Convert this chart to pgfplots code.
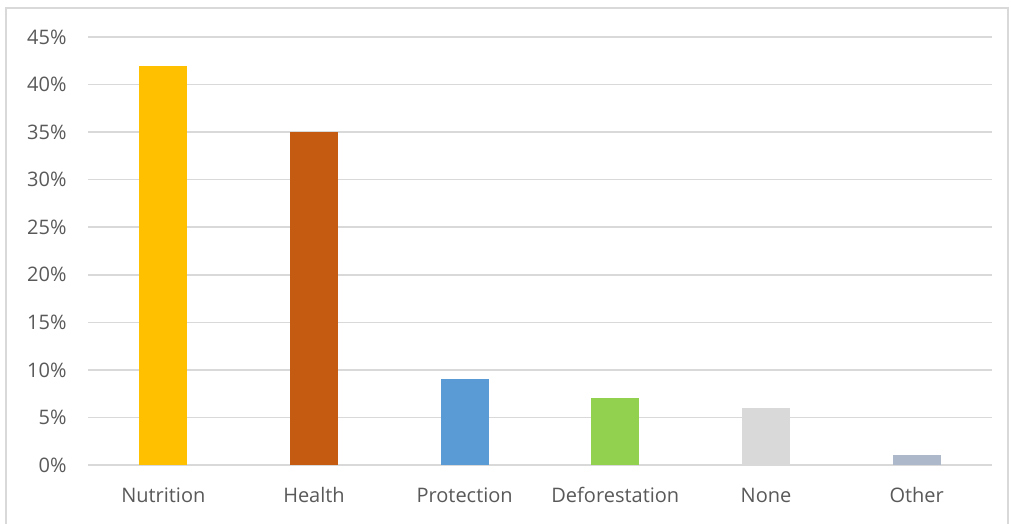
\documentclass[border=0pt]{standalone}
\usepackage{pgfplots}
\pgfplotsset{compat=1.18}
\usepackage{fontspec}
\setmainfont{Open Sans}
\definecolor{txt}{HTML}{595959}
\definecolor{gridc}{HTML}{D9D9D9}
\definecolor{c1}{HTML}{FFC000}
\definecolor{c2}{HTML}{C55A11}
\definecolor{c3}{HTML}{5B9BD5}
\definecolor{c4}{HTML}{92D050}
\definecolor{c5}{HTML}{D9D9D9}
\definecolor{c6}{HTML}{ADB9CA}
\begin{document}
\begin{tikzpicture}
\useasboundingbox (0,0) rectangle (1011pt,524pt);
\draw[gridc, line width=1.5pt] (6pt,-5pt) |- (1008pt,516pt) -- (1008pt,-5pt);
\begin{axis}[
  at={(88pt,59pt)}, anchor=south west,
  scale only axis, width=904pt, height=428pt,
  xmin=-0.5, xmax=5.5, ymin=0, ymax=45,
  xtick={0,...,5},
  xticklabels={Nutrition,Health,Protection,Deforestation,None,Other},
  ytick={0,5,...,45},
  yticklabel={\pgfmathprintnumber{\tick}\%},
  /pgf/number format/assume math mode=true,
  ymajorgrids, grid style={gridc, line width=1.5pt},
  axis line style={draw=none},
  major tick length=0pt,
  tick label style={font=\fontsize{20}{23}\selectfont, text=txt},
  yticklabel style={xshift=-18pt},
  xticklabel style={yshift=-20pt, text height=14pt, text depth=5pt},
  ybar, bar width=48pt, bar shift=0pt,
  clip=false,
]
\addplot[fill=c1, draw=none] coordinates {(0,42)};
\addplot[fill=c2, draw=none] coordinates {(1,35)};
\addplot[fill=c3, draw=none] coordinates {(2,9)};
\addplot[fill=c4, draw=none] coordinates {(3,7)};
\addplot[fill=c5, draw=none] coordinates {(4,6)};
\addplot[fill=c6, draw=none] coordinates {(5,1)};
\end{axis}
\end{tikzpicture}
\end{document}
